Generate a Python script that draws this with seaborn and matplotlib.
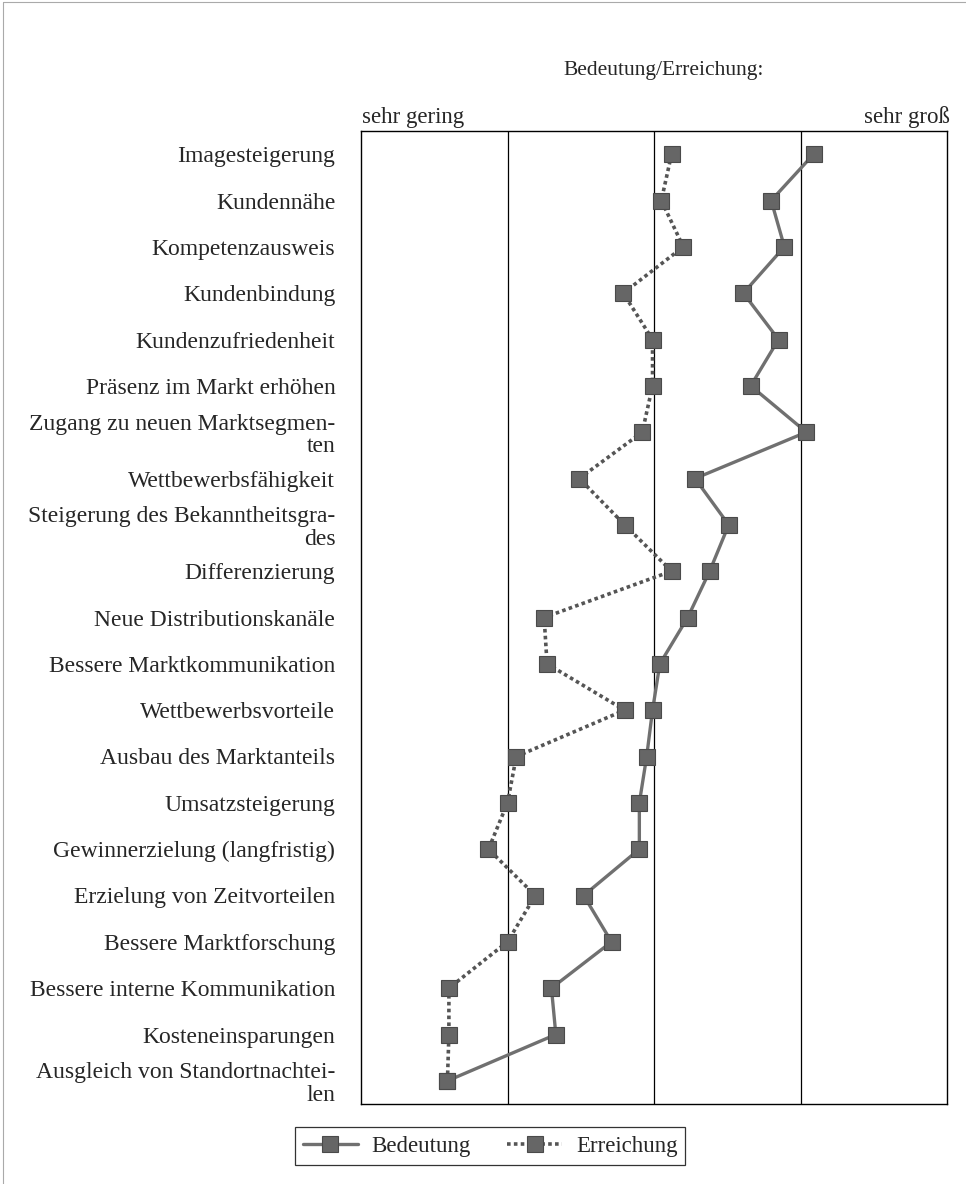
import numpy as np
import pandas as pd
import seaborn as sns
import matplotlib.pyplot as plt
from matplotlib.lines import Line2D

# Ziele der Maßnahme, Skala 1 (sehr gering) bis 5 (sehr groß)
kriterien = [
    "Imagesteigerung",
    "Kundennähe",
    "Kompetenzausweis",
    "Kundenbindung",
    "Kundenzufriedenheit",
    "Präsenz im Markt erhöhen",
    "Zugang zu neuen Marktsegmen-\nten",
    "Wettbewerbsfähigkeit",
    "Steigerung des Bekanntheitsgra-\ndes",
    "Differenzierung",
    "Neue Distributionskanäle",
    "Bessere Marktkommunikation",
    "Wettbewerbsvorteile",
    "Ausbau des Marktanteils",
    "Umsatzsteigerung",
    "Gewinnerzielung (langfristig)",
    "Erzielung von Zeitvorteilen",
    "Bessere Marktforschung",
    "Bessere interne Kommunikation",
    "Kosteneinsparungen",
    "Ausgleich von Standortnachtei-\nlen",
]
bedeutung = [4.09, 3.80, 3.89, 3.61, 3.85, 3.66, 4.04, 3.28, 3.51, 3.38, 3.23,
             3.04, 2.99, 2.95, 2.90, 2.90, 2.52, 2.71, 2.30, 2.33, 1.59]
erreichung = [3.12, 3.05, 3.20, 2.79, 2.99, 2.99, 2.92, 2.49, 2.80, 3.12, 2.25,
              2.27, 2.80, 2.06, 2.00, 1.87, 2.19, 2.00, 1.60, 1.60, 1.59]

df = pd.DataFrame({"pos": np.arange(len(kriterien)),
                   "Bedeutung": bedeutung,
                   "Erreichung": erreichung})

sns.set_style("white")
plt.rcParams['font.family'] = ['Liberation Serif', 'DejaVu Serif']
plt.rcParams['font.size'] = 17

fig = plt.figure(figsize=(9.66, 11.84), dpi=100)
ax = fig.add_axes([361/966, 1 - 1104/1184, (947-361)/966, (1104-131)/1184])

mk = dict(marker="s", markersize=12, markerfacecolor="#666666",
          markeredgecolor="#4a4a4a", markeredgewidth=0.8)
sns.lineplot(data=df, x="Bedeutung", y="pos", orient="y", sort=False, ax=ax,
             color="#707070", linewidth=2.4, label="Bedeutung", **mk)
sns.lineplot(data=df, x="Erreichung", y="pos", orient="y", sort=False, ax=ax,
             color="#555555", linewidth=2.6, linestyle=(0, (1, 0.9)),
             label="Erreichung", **mk)

ax.set_xlim(1, 5)
ax.set_ylim(len(kriterien) - 0.5, -0.5)
for xv in [2, 3, 4]:
    ax.axvline(xv, color="black", linewidth=0.9, zorder=0)

ax.set_xticks([])
ax.set_yticks(df["pos"])
ax.set_yticklabels(kriterien, linespacing=1.1)
ax.tick_params(axis="y", which="major", length=0, pad=18.5, labelsize=17)
ax.set_yticks(np.arange(-0.5, len(kriterien), 1.0), minor=True)
ax.tick_params(axis="y", which="minor", length=8.5, width=0.9, direction="out",
               color="black")
ax.set_xlabel("")
ax.set_ylabel("")
for s in ax.spines.values():
    s.set_color("black")
    s.set_linewidth(1.0)

ax.get_legend().remove()
fig.text(664/966, 1 - 70/1184, "Bedeutung/Erreichung:", ha="center", va="center",
         fontsize=15.5)
fig.text(362/966, 1 - 117/1184, "sehr gering", ha="left", va="center", fontsize=16.5)
fig.text(950/966, 1 - 117/1184, "sehr groß", ha="right", va="center", fontsize=16.5)

handles, labels = ax.get_legend_handles_labels()
leg = fig.legend(handles, labels, loc="center", bbox_to_anchor=(490/966, 1 - 1146/1184),
                 ncol=2, frameon=True, fancybox=False, edgecolor="black",
                 handlelength=2.4, handletextpad=0.6, columnspacing=1.6,
                 borderpad=0.35, numpoints=1, fontsize=16.5)
leg.get_frame().set_linewidth(0.9)

fig.add_artist(Line2D([0.003, 1], [0.998, 0.998], color="#aaaaaa", linewidth=0.8))
fig.add_artist(Line2D([0.003, 0.003], [0, 0.998], color="#aaaaaa", linewidth=0.8))

fig.savefig("out.png", dpi=100)
